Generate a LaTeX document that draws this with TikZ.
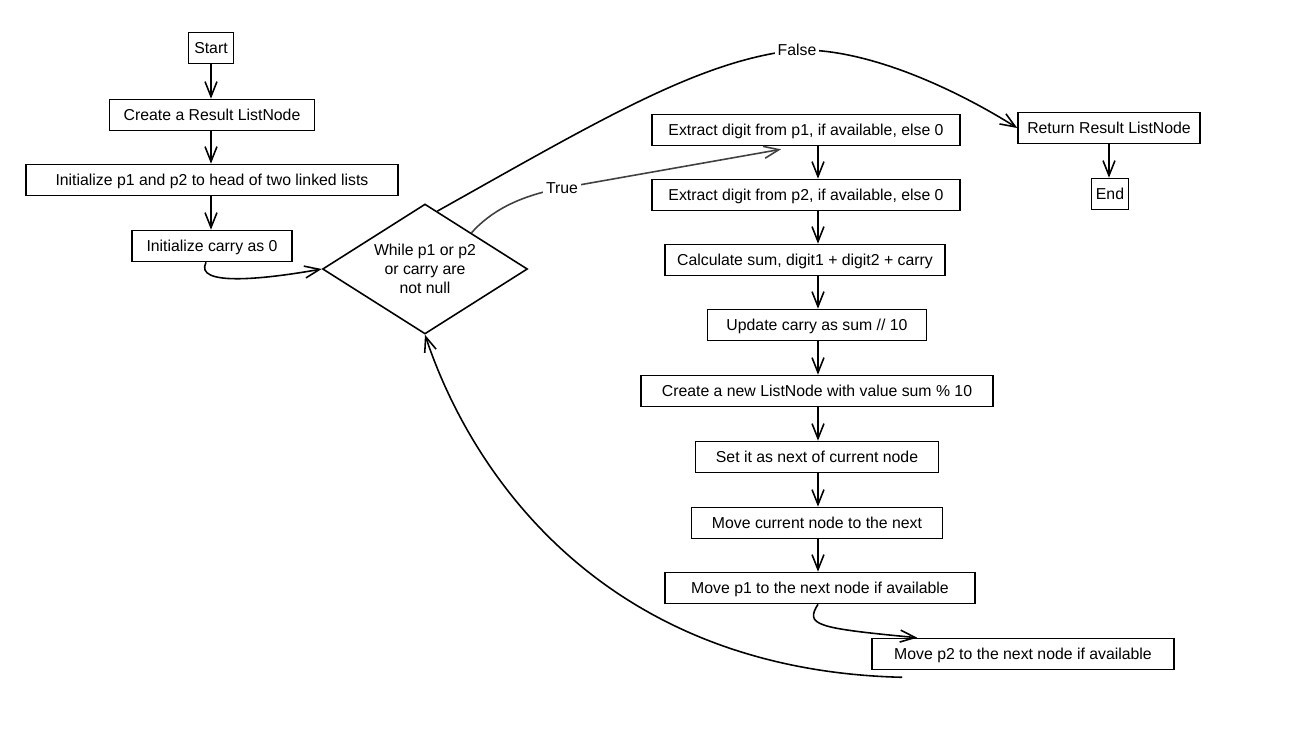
\documentclass[tikz,border=0pt]{standalone}
\usepackage{fontspec}
\setmainfont{Liberation Sans}
\usetikzlibrary{shapes.geometric, arrows.meta, positioning, calc}

\tikzset{
  txt/.style={font=\fontsize{9}{10.8}\selectfont},
  procbox/.style={draw, line width=0.9pt, minimum height=0.62cm, inner xsep=2pt, text height=1.6ex, text depth=0.35ex, txt},
  decision/.style={draw, diamond, aspect=1.6, line width=0.9pt, minimum width=4.1cm, minimum height=2.6cm, inner sep=0pt, align=center, txt},
  flow/.style={-{Straight Barb[length=0.3cm,width=0.24cm]}, line width=0.9pt},
  lbl/.style={fill=white, inner sep=1.5pt, txt}
}

\begin{document}
\begin{tikzpicture}[x=0.02cm, y=-0.02cm]
  \useasboundingbox (0,0) rectangle (1309,745);

  % Left column
  \node[procbox, minimum width=0.9cm, inner xsep=0pt] (start) at (211,48) {Start};
  \node[procbox, minimum width=4.1cm] (create) at (212,115) {Create a Result ListNode};
  \node[procbox, minimum width=7.44cm] (init) at (212,180) {Initialize p1 and p2 to head of two linked lists};
  \node[procbox, minimum width=3.2cm] (carry) at (212,246) {Initialize carry as 0};

  % Loop condition
  \node[decision] (loop) at (425,269) {While p1 or p2\\or carry are\\not null};

  % Loop body
  \node[procbox, minimum width=6.16cm] (dig1) at (806,130) {Extract digit from p1, if available, else 0};
  \node[procbox, minimum width=6.16cm] (dig2) at (806,195) {Extract digit from p2, if available, else 0};
  \node[procbox, minimum width=5.6cm] (sum) at (805,260) {Calculate sum, digit1 + digit2 + carry};
  \node[procbox, minimum width=4.38cm] (upd) at (817,325) {Update carry as sum // 10};
  \node[procbox, minimum width=7.04cm] (newn) at (817,391) {Create a new ListNode with value sum \% 10};
  \node[procbox, minimum width=4.86cm] (setn) at (817,457) {Set it as next of current node};
  \node[procbox, minimum width=5.02cm] (movc) at (817,523) {Move current node to the next};
  \node[procbox, minimum width=6.2cm] (movp1) at (820,588) {Move p1 to the next node if available};
  \node[procbox, minimum width=6.04cm] (movp2) at (1023,654) {Move p2 to the next node if available};

  % Exit
  \node[procbox, minimum width=3.64cm] (ret) at (1109,128) {Return Result ListNode};
  \node[procbox, minimum width=0.74cm, inner xsep=0pt] (end) at (1110,194) {End};

  % Straight arrows
  \coordinate (lspine) at (211,0);
  \coordinate (rspine) at (818,0);
  \foreach \a/\b in {start/create, create/init, init/carry}
    \draw[flow] (\a.south -| lspine) -- (\b.north -| lspine);
  \foreach \a/\b in {dig1/dig2, dig2/sum, sum/upd, upd/newn, newn/setn, setn/movc, movc/movp1}
    \draw[flow] (\a.south -| rspine) -- (\b.north -| rspine);
  \draw[flow] (ret.south) -- (ret.south |- end.north);

  % Curved arrows
  \draw[flow] ($(carry.south)+(-6,0)$) .. controls (194,286) and (260,280) .. (loop.west);
  \draw[flow] ($(movp1.south)+(-2,0)$) .. controls (805,625) and (815,628) .. ($(movp2.north west)+(46,0)$);

  % True branch
  \coordinate (truept) at (562,188);
  \draw[flow, black!75] ($(loop.north)!0.45!(loop.east)$) .. controls (490,212) and (518,196) .. (truept)
    -- ($(dig1.south)+(-25,3)$);
  \node[lbl] (truelbl) at (truept) {True};

  % False branch
  \coordinate (falsept) at (797,50);
  \draw[flow] ($(loop.north)!0.12!(loop.east)$) .. controls (600,120) and (700,60) .. (falsept)
    .. controls (870,48) and (960,92) .. (ret.west);
  \node[lbl] (falselbl) at (falsept) {False};

  % Back to the condition
  \draw[flow] ($(movp2.south west)+(31,7)$) .. controls (600,670) and (470,470) .. (loop.south);
\end{tikzpicture}
\end{document}
